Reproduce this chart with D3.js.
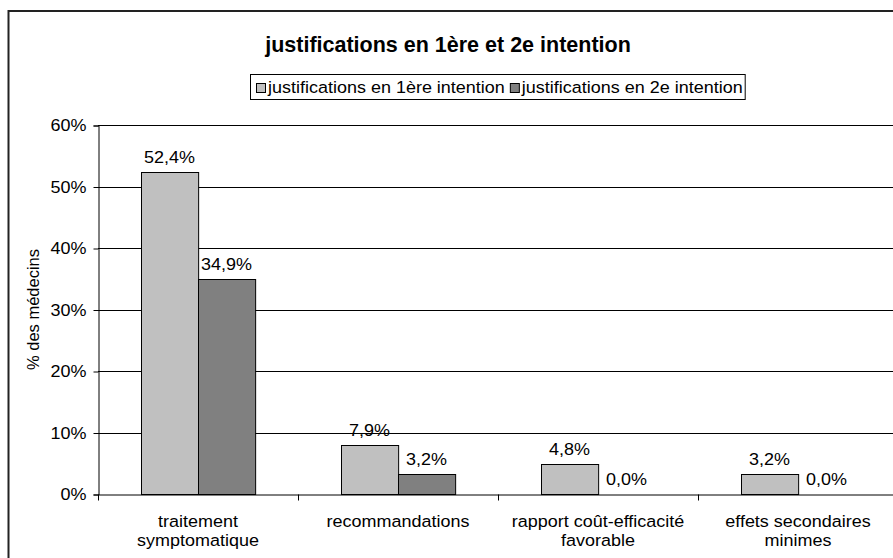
<!DOCTYPE html>
<html lang="fr">
<head>
<meta charset="UTF-8">
<title>justifications en 1ère et 2e intention</title>
<script src="https://d3js.org/d3.v7.min.js"></script>
<style>
  body { margin: 0; background: #fff; }
  svg text { font-family: Arial, "Liberation Sans", sans-serif; fill: #000; }
</style>
</head>
<body>
<svg id="chart" width="893" height="558"></svg>
<script>
// data
const categories = [
  ["traitement", "symptomatique"],
  ["recommandations"],
  ["rapport coût-efficacité", "favorable"],
  ["effets secondaires", "minimes"]
];
const seriesNames = ["justifications en 1ère intention", "justifications en 2e intention"];
const premiere = [52.4, 7.9, 4.8, 3.2];
const deuxieme = [34.9, 3.2, 0.0, 0.0];
const yTicks = [0, 10, 20, 30, 40, 50, 60];
const colors = ["#c0c0c0", "#808080"];

// the original picture is stretched sideways a bit, so the text is too
const SX = 1.09;
const FS = 16.5;

const svg = d3.select("#chart");

function label(parent, x, y, lines, anchor) {
  const g = parent.append("g").attr("transform", `translate(${x},${y}) scale(${SX},1)`);
  const t = g.append("text")
    .attr("text-anchor", anchor || "middle")
    .attr("font-size", FS);
  [].concat(lines).forEach((l, j) => {
    t.append("tspan").attr("x", 0).attr("dy", j === 0 ? 0 : 19).text(l);
  });
  return t;
}

// chart frame
svg.append("rect")
  .attr("x", 8.5).attr("y", 11)
  .attr("width", 900).attr("height", 560)
  .attr("fill", "#fff")
  .attr("stroke", "#222")
  .attr("stroke-width", 2);

const plot = { left: 98, right: 898, top: 125, bottom: 494 };

const catKeys = categories.map((c, i) => i);
const x0 = d3.scaleBand().domain(catKeys).range([plot.left, plot.right]);
const x1 = d3.scaleBand().domain([0, 1]).range([0, x0.bandwidth()]).paddingOuter(0.75);
const y = d3.scaleLinear().domain([0, 60]).range([plot.bottom, plot.top]);

// gridlines
svg.append("g")
  .selectAll("line")
  .data(yTicks.filter(d => d > 0))
  .join("line")
  .attr("x1", plot.left).attr("x2", plot.right)
  .attr("y1", d => Math.round(y(d)) + 0.5).attr("y2", d => Math.round(y(d)) + 0.5)
  .attr("stroke", "#000");

// y axis
const yAxis = svg.append("g")
  .attr("transform", `translate(${plot.left + 0.5},0.5)`)
  .call(d3.axisLeft(y).tickValues(yTicks).tickFormat(d => d + "%").tickSize(5).tickPadding(7));
yAxis.select(".domain").attr("stroke", "#000");
yAxis.selectAll(".tick line").attr("stroke", "#000");
yAxis.selectAll(".tick text")
  .attr("font-size", FS).attr("font-family", null)
  .attr("x", -12 / SX)
  .attr("transform", `scale(${SX},1)`);

// x axis
const xAxis = svg.append("g")
  .attr("transform", `translate(0,${plot.bottom + 0.5})`)
  .call(d3.axisBottom(d3.scaleLinear().domain([0, 4]).range([plot.left, plot.right]))
    .tickValues([0, 1, 2, 3, 4]).tickFormat("").tickSize(6).tickSizeOuter(0));
xAxis.select(".domain").attr("stroke", "#000");
xAxis.selectAll(".tick line").attr("stroke", "#000");

// category labels
const catLab = svg.append("g");
categories.forEach((lines, i) => {
  label(catLab, x0(i) + x0.bandwidth() / 2, 527, lines);
});

// bars
const rows = catKeys.map(i => [premiere[i], deuxieme[i]]);
const groups = svg.append("g").selectAll("g")
  .data(rows)
  .join("g")
  .attr("transform", (d, i) => `translate(${x0(i)},0)`);

groups.selectAll("rect")
  .data(d => d.map((v, s) => ({ v, s })))
  .join("rect")
  .filter(d => d.v > 0)
  .attr("x", d => Math.round(x1(d.s)) + 0.5)
  .attr("y", d => Math.round(y(d.v)) + 0.5)
  .attr("width", x1.bandwidth())
  .attr("height", d => Math.round(y(0)) - Math.round(y(d.v)))
  .attr("fill", d => colors[d.s])
  .attr("stroke", "#000");

groups.each(function(d) {
  const g = d3.select(this);
  d.forEach((v, s) => {
    label(g, x1(s) + x1.bandwidth() / 2, y(v) - 9, v.toFixed(1).replace(".", ",") + "%");
  });
});

// y axis title
svg.append("text")
  .attr("transform", `translate(39,${(plot.top + plot.bottom) / 2}) rotate(-90)`)
  .attr("text-anchor", "middle")
  .attr("font-size", 16.5)
  .text("% des médecins");

// title
svg.append("text")
  .attr("x", 448).attr("y", 52)
  .attr("text-anchor", "middle")
  .attr("font-size", 21.5)
  .attr("font-weight", "bold")
  .text("justifications en 1ère et 2e intention");

// legend
const legend = svg.append("g");
const legBox = legend.append("rect")
  .attr("fill", "#fff").attr("stroke", "#000");
let lx = 256;
seriesNames.forEach((name, i) => {
  legend.append("rect")
    .attr("x", lx + 0.5).attr("y", 83.5)
    .attr("width", 9).attr("height", 9)
    .attr("fill", colors[i]).attr("stroke", "#000");
  const t = label(legend, lx + 12, 93, name, "start");
  lx += 12 + t.node().getComputedTextLength() * SX + 5;
});
legBox.attr("x", 250.5).attr("y", 74.5).attr("width", lx - 250 - 3).attr("height", 25);
</script>
</body>
</html>
